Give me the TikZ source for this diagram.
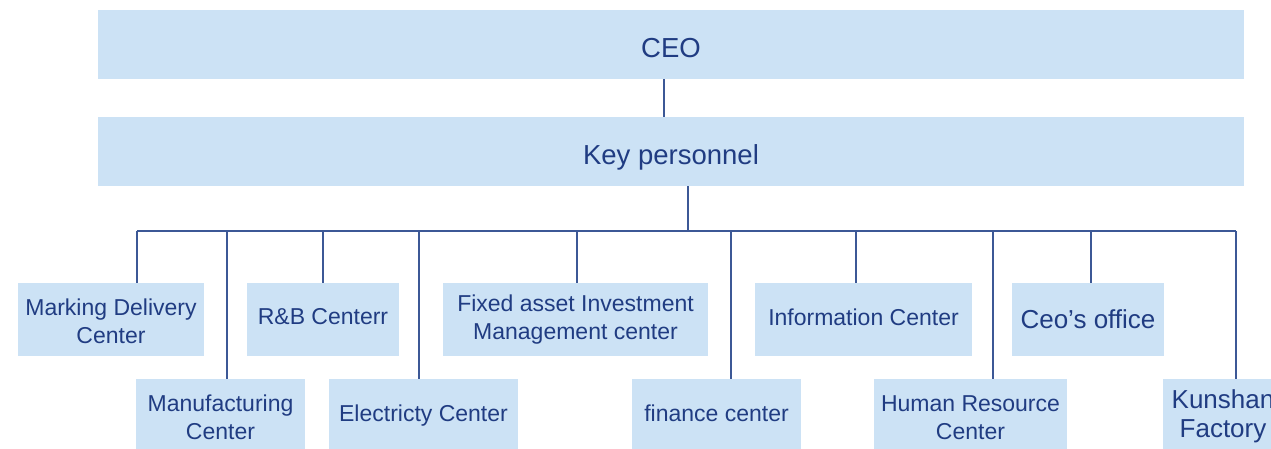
\documentclass[tikz,border=0pt]{standalone}
\usepackage{fontspec}
\setmainfont{Liberation Sans}
\definecolor{boxblue}{RGB}{204,226,245}
\definecolor{txtblue}{RGB}{32,60,130}
\definecolor{lineblue}{RGB}{60,88,150}
\tikzset{
  orgbox/.style={fill=boxblue, draw=none, inner sep=0pt, align=center, text=txtblue,
    font=\fontsize{23}{28}\selectfont},
  topbox/.style={orgbox, minimum width=1146pt, minimum height=69pt, font=\fontsize{27.5}{32}\selectfont},
  rowa/.style={orgbox, minimum height=73pt},
  rowb/.style={orgbox, minimum height=70pt},
  base/.style={text depth=0pt, text height=#1},
  link/.style={draw=lineblue, line width=1.5pt}
}
\begin{document}
\begin{tikzpicture}[x=1pt,y=-1pt]
\useasboundingbox (0,0) rectangle (1271,449);
\clip (0,0) rectangle (1271,449);
\node[topbox, base=27pt] (ceo) at (671,44.5) {CEO};
\node[topbox, base=27pt] (kp) at (671,151.5) {Key personnel};
% top row
\node[rowa, minimum width=186pt] (md) at (111,319.5) {\rule{0pt}{20.8pt}Marking Delivery\\Center};
\node[rowa, minimum width=152pt, base=10pt] (rb) at (323,319.5) {R\&B Centerr};
\node[rowa, minimum width=265pt] (fa) at (575.5,319.5) {Fixed asset Investment\\Management center};
\node[rowa, minimum width=217pt, base=12pt] (ic) at (863.5,319.5) {Information Center};
\node[rowa, minimum width=152pt, base=17pt, font=\fontsize{26}{30}\selectfont] (co) at (1088,319.5) {Ceo’s office};
% bottom row
\node[rowb, minimum width=169pt] (mf) at (220.5,414) {\rule{0pt}{22.8pt}Manufacturing\\Center};
\node[rowb, minimum width=189pt, base=14pt] (el) at (423.5,414) {Electricty Center};
\node[rowb, minimum width=169pt, base=15pt] (fi) at (716.5,414) {finance center};
\node[rowb, minimum width=193pt] (hr) at (970.5,414) {\rule{0pt}{22.5pt}Human Resource\\Center};
\node[rowb, minimum width=120pt, font=\fontsize{26}{29}\selectfont] (ks) at (1223,414) {\rule{0pt}{23pt}Kunshan\\Factory};
% connector coordinates
\coordinate (c0) at (664,98);
\coordinate (kd) at (688,231);
\coordinate (d1) at (137,231);
\coordinate (d2) at (227,231);
\coordinate (d3) at (323,231);
\coordinate (d4) at (419,231);
\coordinate (d5) at (577,231);
\coordinate (d6) at (731,231);
\coordinate (d7) at (856,231);
\coordinate (d8) at (993,231);
\coordinate (d9) at (1091,231);
\coordinate (d10) at (1236,231);
\draw[link] (ceo.south -| c0) -- (kp.north -| c0);
\draw[link] (kp.south -| kd) -- (kd);
\draw[link] (d1) -- (d10);
\draw[link] (d1) -- (md.north -| d1);
\draw[link] (d2) -- (mf.north -| d2);
\draw[link] (d3) -- (rb.north -| d3);
\draw[link] (d4) -- (el.north -| d4);
\draw[link] (d5) -- (fa.north -| d5);
\draw[link] (d6) -- (fi.north -| d6);
\draw[link] (d7) -- (ic.north -| d7);
\draw[link] (d8) -- (hr.north -| d8);
\draw[link] (d9) -- (co.north -| d9);
\draw[link] (d10) -- (ks.north -| d10);
\end{tikzpicture}
\end{document}
